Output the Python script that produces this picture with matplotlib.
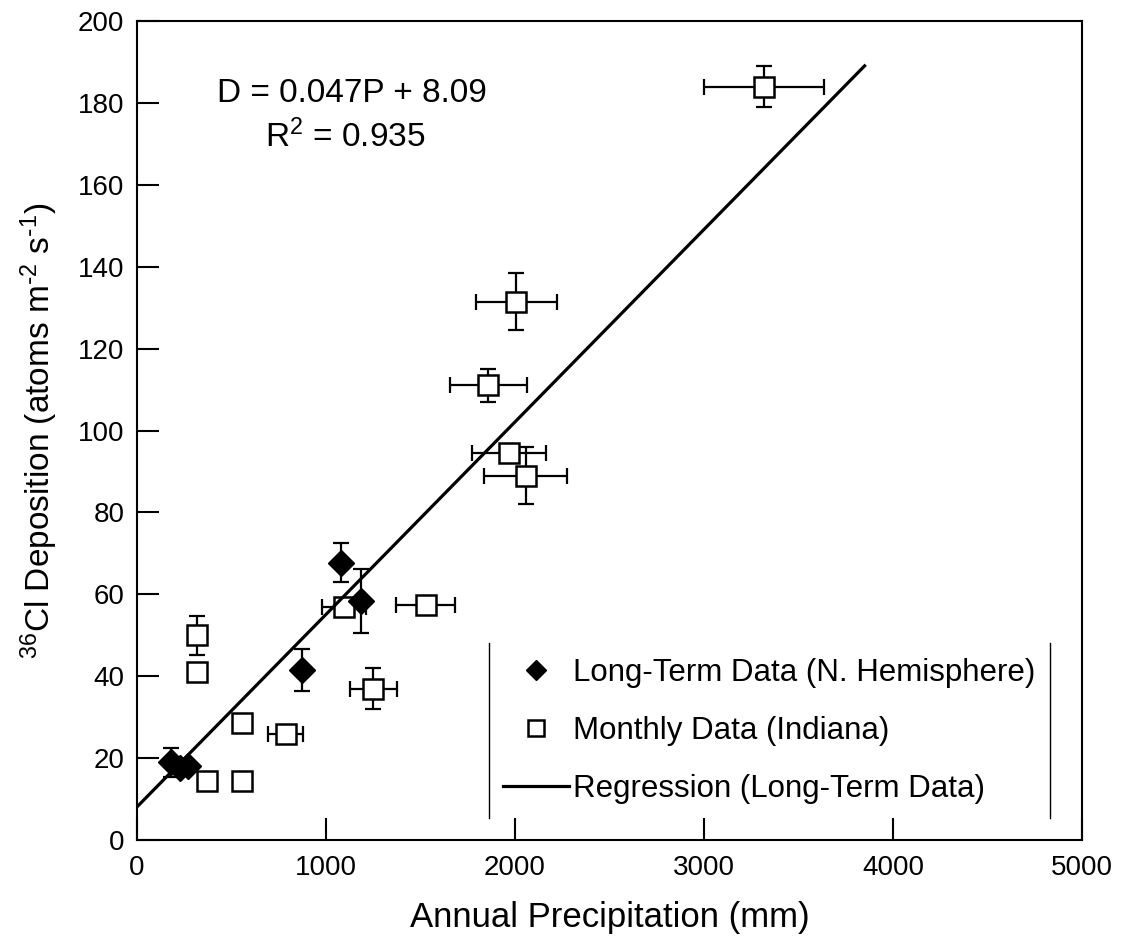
import numpy as np
import matplotlib
matplotlib.use("Agg")
import matplotlib.pyplot as plt
from matplotlib.lines import Line2D

plt.rcParams['font.family'] = ['Liberation Sans', 'DejaVu Sans']
plt.rcParams['mathtext.default'] = 'regular'

# long-term data (N. Hemisphere)
lt_x = [180, 230, 270, 872, 1081, 1184]
lt_y = [19.0, 17.5, 18.0, 41.5, 67.7, 58.4]
lt_yerr = [3.5, 0, 0, 5.1, 4.8, 7.8]

# monthly data (Indiana)
m_x = [320, 320, 373, 553, 558, 787, 1096, 1251, 1527, 1858, 1968, 2008, 2056, 3316]
m_y = [50.0, 41.0, 14.5, 14.5, 28.5, 26.0, 57.0, 37.0, 57.5, 111.0, 94.5, 131.5, 89.0, 184.0]
m_xerr = [0, 0, 0, 0, 0, 93, 115, 125, 155, 203, 198, 216, 218, 318]
m_yerr = [4.8, 0, 0, 0, 0, 0, 0, 5.0, 0, 4.0, 0, 7.0, 7.0, 5.0]

# regression D = 0.047P + 8.09
reg_slope = 0.047
reg_icpt = 8.09
reg_x = np.array([0, 3850])

x_ticks = [0, 1000, 2000, 3000, 4000, 5000]
y_ticks = [0, 20, 40, 60, 80, 100, 120, 140, 160, 180, 200]

fig = plt.figure(figsize=(11.22, 9.41), dpi=100)
ax = fig.add_axes([0.1221, 0.1073, 0.8422, 0.8704])

eb_kw = dict(fmt='none', ecolor='black', elinewidth=1.6, capsize=6, capthick=1.6)
ax.errorbar(m_x, m_y, xerr=m_xerr, yerr=m_yerr, zorder=2, **eb_kw)
ax.errorbar(lt_x, lt_y, yerr=lt_yerr, zorder=2, **eb_kw)

ax.plot(m_x, m_y, ls='none', marker='s', ms=15, mfc='white', mec='black', mew=1.8,
        zorder=3, label='Monthly Data (Indiana)')
ax.plot(reg_x, reg_slope * reg_x + reg_icpt, color='black', lw=2.3, zorder=4,
        label='Regression (Long-Term Data)')
ax.plot(lt_x, lt_y, ls='none', marker='D', ms=13, mfc='black', mec='black',
        zorder=5, label='Long-Term Data (N. Hemisphere)')

ax.set_xlim(0, 5000)
ax.set_ylim(0, 200)
ax.set_xticks(x_ticks)
ax.set_yticks(y_ticks)
ax.tick_params(direction='in', length=16, width=1.5, labelsize=20, top=False, right=False)
ax.tick_params(axis='y', pad=9)
ax.tick_params(axis='x', pad=11)
for sp in ax.spines.values():
    sp.set_linewidth(1.5)

ax.set_xlabel('Annual Precipitation (mm)', fontsize=25)
ax.set_ylabel(r'$^{36}$Cl Deposition (atoms m$^{\text{-}2}$ s$^{\text{-}1}$)', fontsize=24)
ax.xaxis.set_label_coords(0.5, -0.095)
ax.xaxis.label.set_va('center')
ax.yaxis.set_label_coords(-0.103, 0.5)
ax.yaxis.label.set_va('center')

ax.text(0.2275, 0.912, 'D = 0.047P + 8.09', transform=ax.transAxes, fontsize=24,
        ha='center', va='center')
ax.text(0.220, 0.858, r'R$^{2}$ = 0.935', transform=ax.transAxes, fontsize=24,
        ha='center', va='center')

handles, labels = ax.get_legend_handles_labels()
order = [2, 0, 1]
leg = ax.legend([handles[i] for i in order], [labels[i] for i in order],
                loc='upper left', bbox_to_anchor=(0.3725, 0.24), borderaxespad=0,
                frameon=False, fontsize=22.5, handlelength=2.1, handletextpad=0.15,
                labelspacing=0.9, borderpad=0.45, markerscale=0.75)

# legend box in the original only has its side edges
fig.canvas.draw()
bb = leg.get_window_extent(fig.canvas.get_renderer())
for xe in (bb.x0, bb.x1):
    fig.add_artist(Line2D([xe, xe], [bb.y0, bb.y1], transform=None, color='black', lw=1.0))

fig.savefig('out.png', dpi=100)
